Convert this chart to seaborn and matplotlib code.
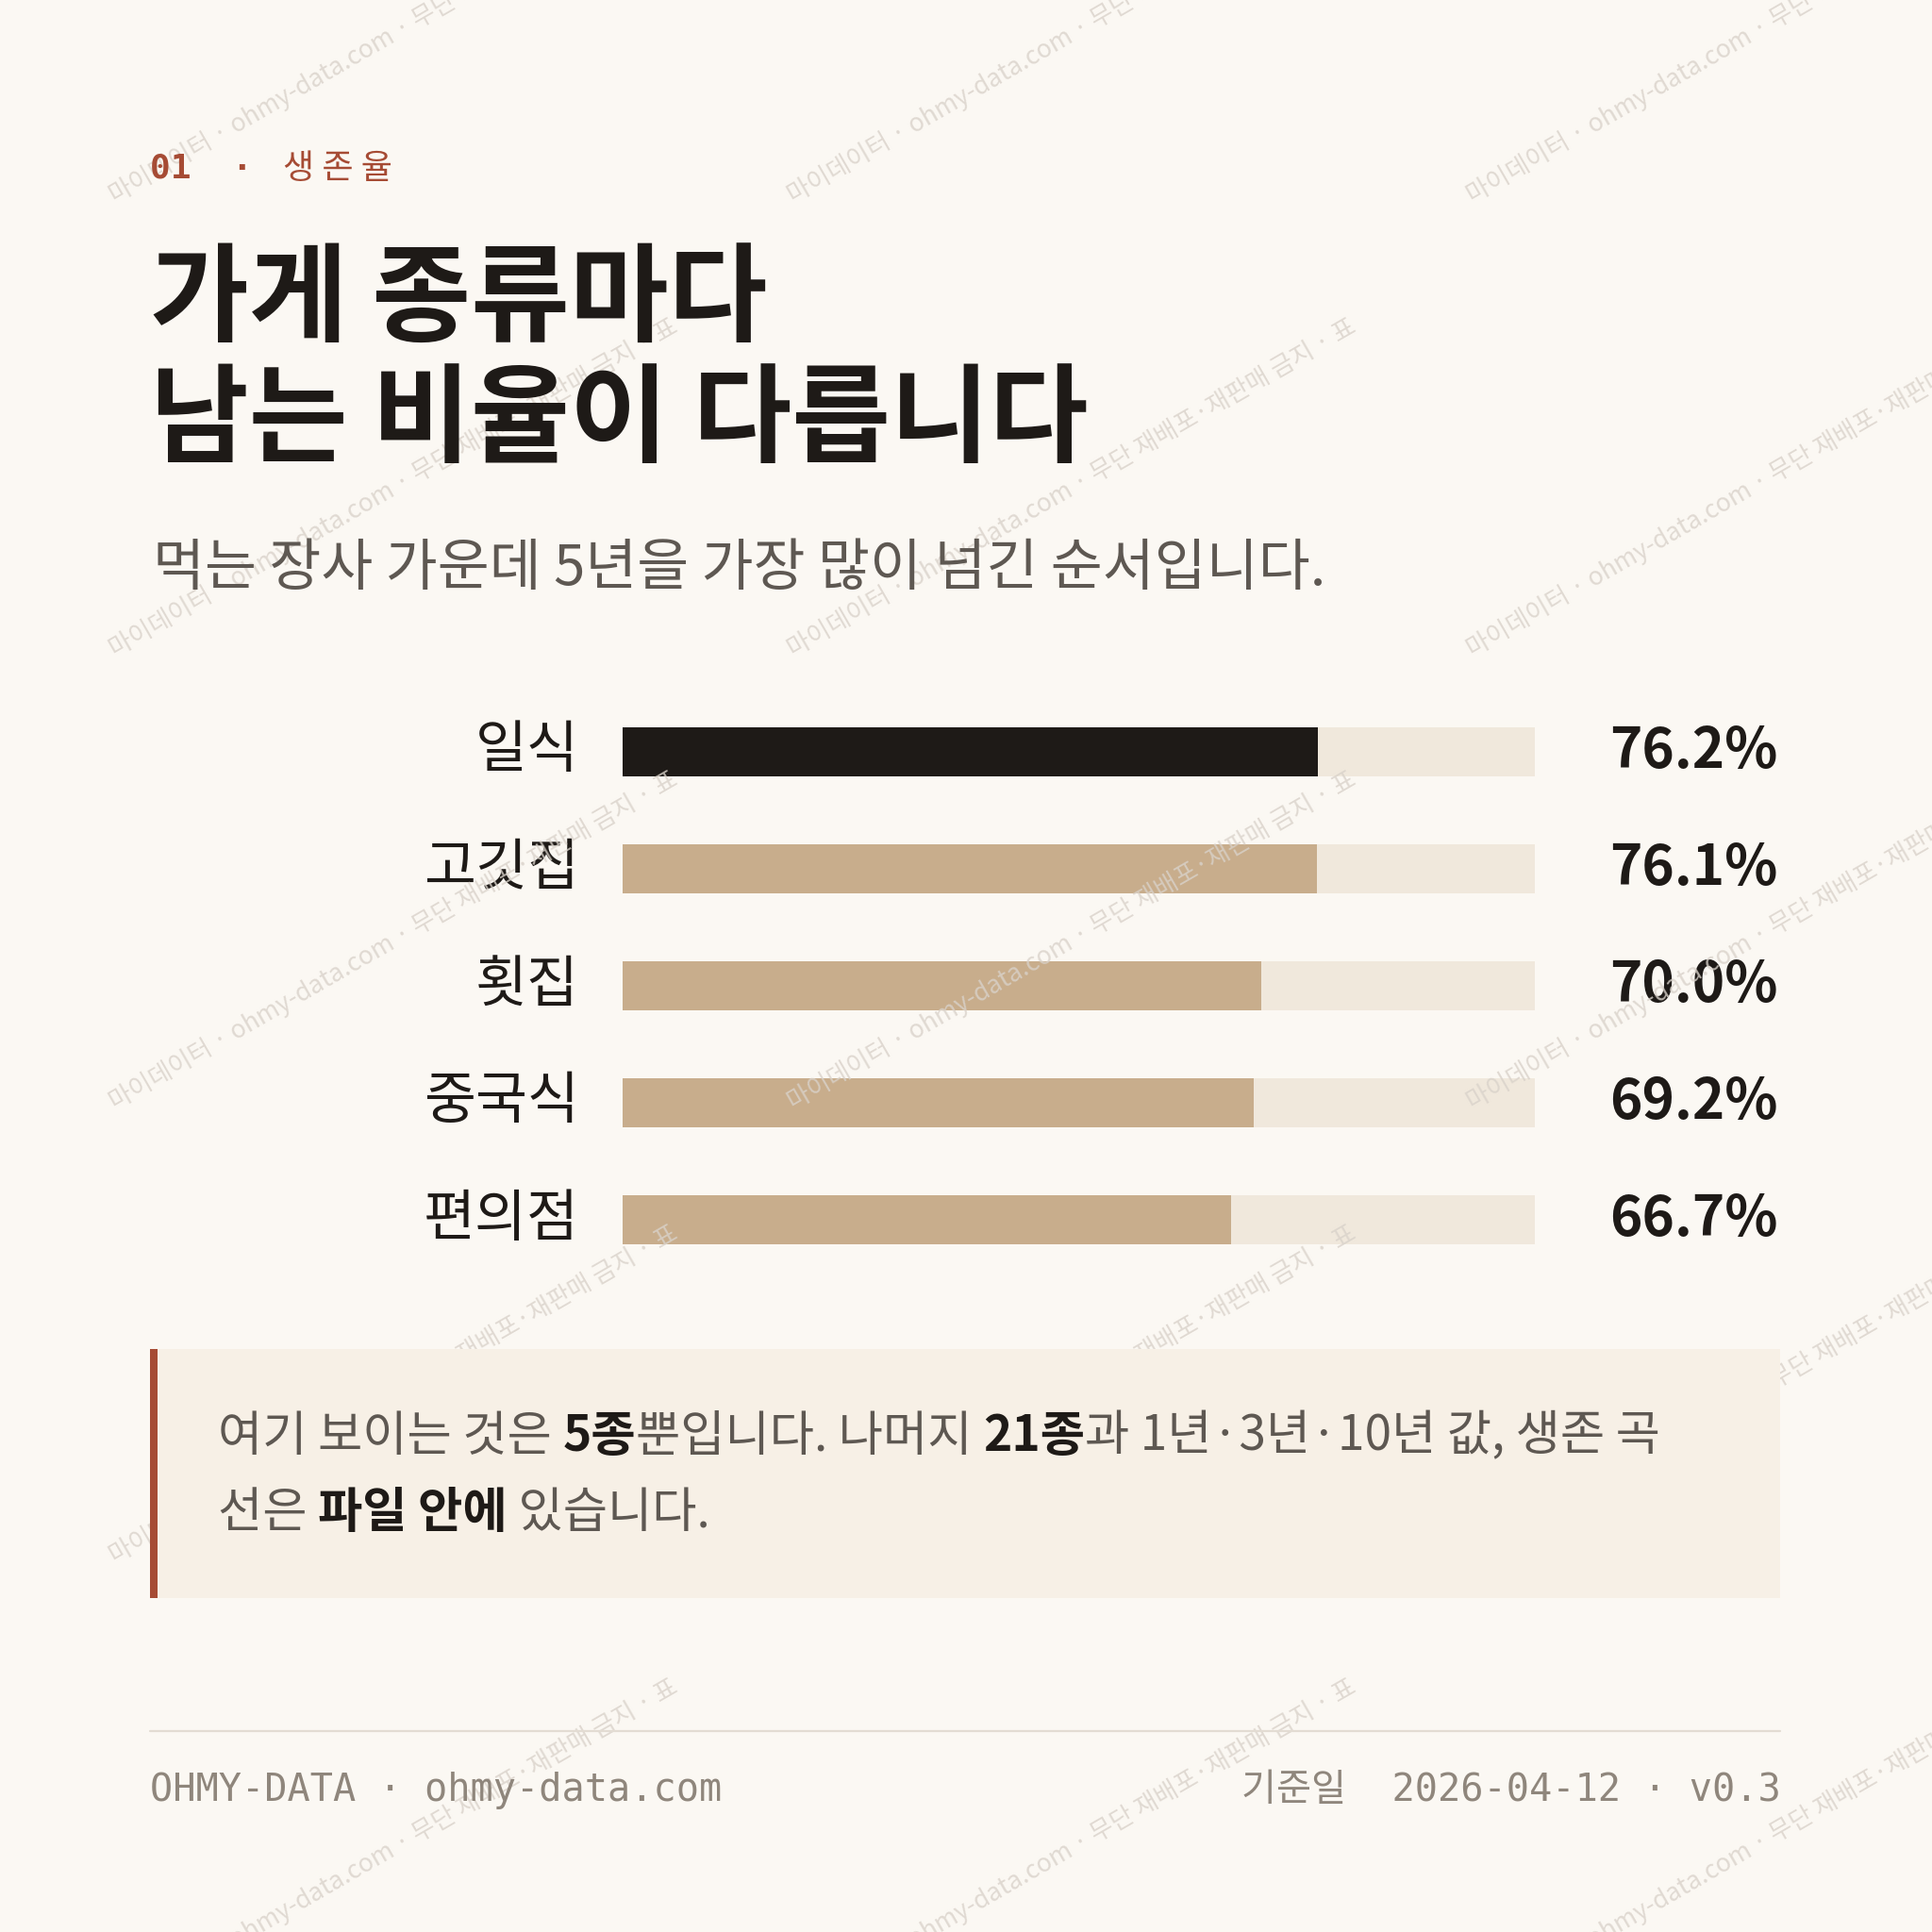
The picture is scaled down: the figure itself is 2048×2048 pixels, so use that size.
import matplotlib
matplotlib.use("Agg")
import matplotlib.pyplot as plt
import seaborn as sns
import pandas as pd
from matplotlib.patches import Rectangle

sns.set_theme(style="white")
KR = ['Noto Sans CJK KR', 'DejaVu Sans']
MONO = ['DejaVu Sans Mono', 'Noto Sans CJK KR']
plt.rcParams['font.family'] = KR

categories = ['일식', '고깃집', '횟집', '중국식', '편의점']
values = [76.2, 76.1, 70.0, 69.2, 66.7]
value_labels = ['76.2%', '76.1%', '70.0%', '69.2%', '66.7%']

BG = '#FBF8F3'; DARK = '#1E1A17'; TAN = '#C8AD8C'; TRACK = '#F0E8DC'
RUST = '#A64B34'; GRAY = '#5E5852'; LGRAY = '#8F867C'

W = 1568.0
fig = plt.figure(figsize=(10.24, 10.24), dpi=200, facecolor=BG)
def fx(x): return x / W
def fy(y): return 1 - y / W

# watermark
for row in range(-2, 10):
    for col in range(-1, 4):
        x0 = col * 551 + 90
        y0 = row * 368 + 160
        fig.text(fx(x0), fy(y0), '마이데이터 · ohmy-data.com · 무단 재배포·재판매 금지 · 표',
                 rotation=30, color='#D9D2CA', fontsize=9.5, ha='left', va='center',
                 rotation_mode='anchor', alpha=0.8, zorder=0)

fig.text(fx(122), fy(137), '01  ·', color=RUST, fontsize=13, fontweight='bold',
         family=MONO, va='center')
fig.text(fx(230), fy(137), '생 존 율', color=RUST, fontsize=13, va='center')
fig.text(fx(122), fy(245), '가게 종류마다', color=DARK, fontsize=41, fontweight='bold', va='center')
fig.text(fx(122), fy(343), '남는 비율이 다릅니다', color=DARK, fontsize=41, fontweight='bold', va='center')
fig.text(fx(124), fy(462), '먹는 장사 가운데 5년을 가장 많이 넘긴 순서입니다.', color=GRAY,
         fontsize=21.5, va='center')

# bars
top, bot = 562.5, 1037.5
ax = fig.add_axes([fx(505), fy(bot), (1246 - 505) / W, (bot - top) / W])
ax.set_facecolor('none')
df = pd.DataFrame({'cat': categories, 'val': values, 'full': [100] * 5})
sns.barplot(data=df, x='full', y='cat', color=TRACK, width=0.42, ax=ax, saturation=1,
            linewidth=0)
sns.barplot(data=df, x='val', y='cat', hue='cat', palette=[DARK] + [TAN] * 4,
            width=0.42, ax=ax, saturation=1, legend=False, linewidth=0)
ax.set_xlim(0, 100); ax.set_ylim(4.5, -0.5)
ax.set_xlabel(''); ax.set_ylabel('')
ax.set_xticks([]); ax.set_yticks([])
for s in ax.spines.values(): s.set_visible(False)
for i, (c, v) in enumerate(zip(categories, value_labels)):
    ax.text(-35 / 741 * 100, i, c, ha='right', va='center', fontsize=21.5, color=DARK)
    ax.text((1443 - 505) / 741 * 100, i, v, ha='right', va='center', fontsize=21,
            fontweight='bold', color=DARK, clip_on=False)

# note box
fig.patches.append(Rectangle((fx(122), fy(1297)), (1445 - 122) / W, (1297 - 1095) / W,
                             transform=fig.transFigure, facecolor='#F7F0E6', edgecolor='none', zorder=1))
fig.patches.append(Rectangle((fx(122), fy(1297)), 6 / W, (1297 - 1095) / W,
                             transform=fig.transFigure, facecolor=RUST, edgecolor='none', zorder=2))

fig.canvas.draw()
r = fig.canvas.get_renderer()
def rich(x, y, parts, size):
    for txt, bold in parts:
        t = fig.text(x, y, txt, fontsize=size, va='center', zorder=3,
                     color=DARK if bold else GRAY, fontweight='bold' if bold else 'normal')
        bb = t.get_window_extent(renderer=r)
        x += bb.width / fig.bbox.width
rich(fx(177), fy(1166), [('여기 보이는 것은 ', False), ('5종', True), ('뿐입니다. 나머지 ', False),
                         ('21종', True), ('과 1년·3년·10년 값, 생존 곡', False)], 18.5)
rich(fx(177), fy(1228), [('선은 ', False), ('파일 안에', True), (' 있습니다.', False)], 18.5)

# footer
fig.add_artist(plt.Line2D([fx(122), fx(1445)], [fy(1405), fy(1405)], color='#E3DCD3', lw=0.8))
fig.text(fx(122), fy(1453), 'OHMY-DATA · ohmy-data.com', family=MONO, fontsize=14.5,
         color=LGRAY, va='center')
fig.text(fx(1445), fy(1453), '기준일  2026-04-12 · v0.3', family=MONO, fontsize=14.5,
         color=LGRAY, va='center', ha='right')

fig.savefig('out.png', dpi=200, facecolor=BG)
